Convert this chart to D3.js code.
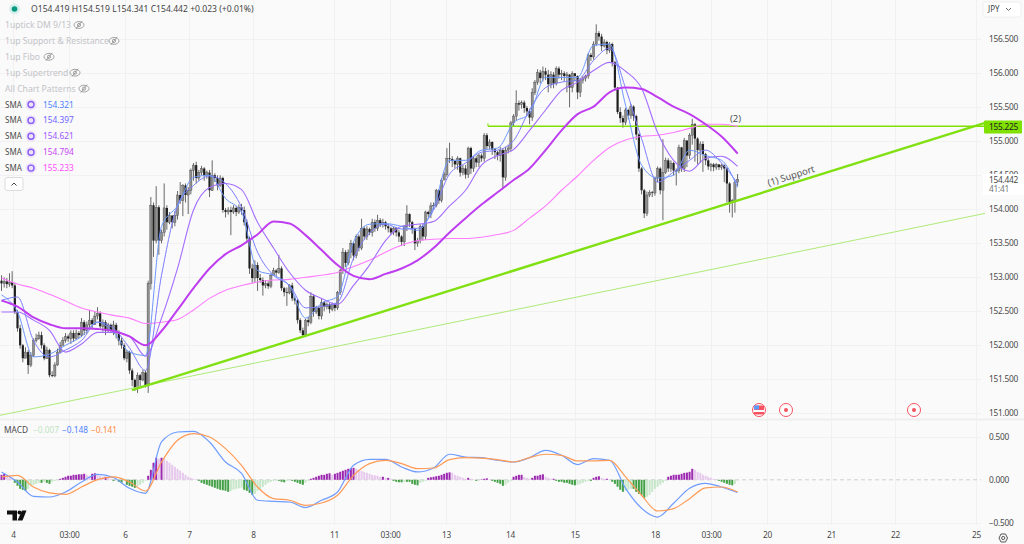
<!DOCTYPE html>
<html>
<head>
<meta charset="utf-8">
<script src="https://cdn.jsdelivr.net/npm/d3@7"></script>
<style>
  html, body { margin: 0; padding: 0; background: #fafafa; overflow: hidden; }
  svg { display: block; font-family: "Noto Sans", "Open Sans", sans-serif; }
  .axis .domain, .axis line { display: none; }
  .axis text, .axisLabel { fill: #4a4a4a; font-size: 8.3px; letter-spacing: -0.25px; font-family: "Noto Sans", sans-serif; }
</style>
</head>
<body>
<div id="chart"></div>
<script>
// hourly closes, first open is 152.95, each next open = previous close
const closes = [
  152.91,152.94,152.90,152.93,152.88,152.49,152.25,152.00,151.81,151.90,
  151.71,151.85,152.07,152.10,152.15,152.00,151.81,151.93,151.56,151.55,
  151.71,151.90,152.00,152.07,152.13,152.10,152.18,152.10,152.18,152.15,
  152.34,152.22,152.30,152.37,152.31,152.43,152.47,152.28,152.34,152.22,
  152.30,152.22,152.30,152.19,152.07,152.00,151.81,151.90,151.63,151.49,
  151.37,151.56,151.49,151.60,151.41,152.91,154.06,153.54,154.03,153.54,
  153.66,154.02,153.81,153.91,153.81,153.91,154.21,154.13,154.35,154.21,
  154.28,154.57,154.65,154.46,154.54,154.60,154.50,154.54,154.28,154.50,
  154.46,154.35,154.46,153.99,153.96,153.99,153.96,154.02,153.96,154.03,
  153.99,153.81,153.57,153.13,152.99,153.18,152.99,152.96,152.88,152.91,
  152.87,153.03,153.10,153.07,153.13,152.84,152.78,152.77,152.88,152.69,
  152.66,152.37,152.22,152.15,152.37,152.34,152.72,152.49,152.55,152.43,
  152.63,152.57,152.60,152.53,152.60,152.55,152.78,153.10,153.37,153.21,
  153.37,153.50,153.32,153.60,153.43,153.72,153.60,153.71,153.66,153.81,
  153.72,153.84,153.78,153.81,153.75,153.72,153.66,153.72,153.66,153.60,
  153.52,153.75,153.93,153.81,153.71,153.50,153.54,153.75,153.60,153.96,
  153.93,154.05,154.06,154.28,154.13,154.43,154.51,154.75,154.74,154.71,
  154.66,154.75,154.54,154.60,154.51,154.90,154.60,154.75,154.69,154.79,
  154.75,155.09,154.93,154.99,154.88,154.84,154.79,154.87,154.47,154.87,
  154.90,155.27,155.37,155.56,155.54,155.57,155.49,155.44,155.35,155.72,
  155.87,156.01,155.93,156.03,155.98,155.84,155.98,155.85,156.07,155.98,
  156.00,155.96,155.98,155.79,156.00,155.96,155.72,155.90,155.93,155.96,
  156.27,156.24,156.43,156.59,156.54,156.40,156.46,156.34,156.43,156.16,
  155.79,155.43,155.34,155.28,155.46,155.38,155.51,155.37,155.10,154.60,
  154.28,153.94,154.21,154.25,154.24,154.46,154.60,154.28,154.54,154.72,
  154.60,154.68,154.57,154.57,154.91,154.60,155.01,154.79,155.09,155.25,
  155.04,154.87,154.96,154.81,154.72,154.63,154.66,154.62,154.66,154.62,
  154.65,154.60,154.38,154.10,154.13,154.40,154.442
];
const highs = [
  153.03,153.00,152.99,153.06,153.09,152.92,152.52,152.30,152.02,151.97,
  151.93,151.90,152.10,152.17,152.20,152.20,152.03,151.98,151.95,151.62,
  151.75,151.95,152.05,152.12,152.18,152.16,152.22,152.22,152.23,152.21,
  152.40,152.37,152.35,152.52,152.40,152.50,152.56,152.50,152.38,152.37,
  152.33,152.32,152.36,152.33,152.22,152.11,152.03,151.93,151.92,151.66,
  151.51,151.60,151.58,151.64,151.63,152.95,154.18,154.10,154.34,154.06,
  153.70,154.38,154.06,153.96,153.88,153.97,154.27,154.40,154.37,154.38,
  154.33,154.60,154.68,154.70,154.58,154.64,154.62,154.57,154.58,154.72,
  154.53,154.50,154.50,154.48,154.02,154.03,154.04,154.06,154.05,154.07,
  154.08,154.04,153.85,153.60,153.20,153.25,153.22,153.05,153.00,152.96,
  152.94,153.06,153.14,153.12,153.33,153.16,152.86,152.85,152.90,152.92,
  152.72,152.68,152.40,152.26,152.39,152.42,152.78,152.75,152.58,152.57,
  152.68,152.65,152.63,152.62,152.63,152.62,152.80,153.13,153.43,153.40,
  153.41,153.55,153.52,153.63,153.63,153.86,153.75,153.75,153.73,153.86,
  153.85,153.92,153.87,153.86,153.83,153.78,153.74,153.74,153.74,153.70,
  153.62,153.77,154.06,153.94,153.83,153.73,153.58,153.78,153.78,153.98,
  153.98,154.10,154.10,154.30,154.30,154.46,154.55,154.90,154.98,154.78,
  154.73,154.78,154.76,154.65,154.65,154.92,154.92,154.78,154.78,154.82,
  154.82,155.12,155.12,155.03,155.00,154.90,154.86,154.92,154.90,154.92,
  154.95,155.30,155.40,155.75,155.60,155.60,155.60,155.52,155.48,155.78,
  155.90,156.06,156.05,156.10,156.08,156.05,156.03,156.02,156.10,156.10,
  156.05,156.03,156.02,155.99,156.03,156.00,155.97,155.93,155.96,155.98,
  156.30,156.30,156.47,156.72,156.62,156.58,156.50,156.48,156.46,156.45,
  156.18,155.80,155.50,155.38,155.49,155.48,155.55,155.53,155.39,155.12,
  154.62,154.30,154.26,154.28,154.27,154.48,154.63,154.62,155.03,154.76,
  154.75,154.72,154.70,154.60,154.95,154.92,155.05,155.02,155.12,155.33,
  155.27,155.06,155.00,155.00,154.83,154.75,154.68,154.68,154.68,154.66,
  154.67,154.66,154.62,154.40,154.15,154.42,154.519
];
const lows = [
  152.80,152.85,152.84,152.86,152.84,152.46,152.20,151.95,151.75,151.82,
  151.58,151.68,151.83,152.04,152.08,151.95,151.78,151.80,151.53,151.53,
  151.53,151.70,151.88,152.00,152.04,152.05,152.02,152.05,152.08,152.10,
  152.12,152.15,152.17,152.25,152.25,152.30,152.38,152.25,152.20,152.15,
  152.18,152.18,152.15,152.10,152.00,151.95,151.78,151.75,151.58,151.40,
  151.33,151.30,151.40,151.47,151.38,151.30,152.82,153.30,153.50,153.33,
  153.50,153.60,153.70,153.78,153.72,153.75,153.85,154.08,153.90,154.10,
  153.93,154.22,154.42,154.38,154.42,154.50,154.42,154.45,154.18,154.27,
  154.40,154.28,154.33,153.95,153.88,153.92,153.62,153.93,153.90,153.93,
  153.92,153.76,153.52,153.05,152.92,152.92,152.80,152.92,152.73,152.84,
  152.83,152.84,153.02,153.02,153.05,152.80,152.72,152.58,152.75,152.65,
  152.60,152.32,152.18,152.12,152.12,152.28,152.31,152.42,152.46,152.38,
  152.38,152.50,152.53,152.47,152.50,152.50,152.52,152.74,153.05,153.15,
  153.18,153.28,153.25,153.28,153.38,153.40,153.55,153.55,153.62,153.60,
  153.67,153.68,153.74,153.73,153.70,153.66,153.62,153.62,153.60,153.52,
  153.46,153.46,153.68,153.74,153.64,153.40,153.45,153.50,153.54,153.55,
  153.88,153.87,154.00,154.03,154.08,154.10,154.45,154.48,154.68,154.62,
  154.60,154.58,154.48,154.50,154.45,154.46,154.52,154.55,154.62,154.62,
  154.70,154.70,154.88,154.88,154.80,154.74,154.72,154.70,154.30,154.42,
  154.82,154.85,155.22,155.30,155.45,155.48,155.42,155.38,155.25,155.30,
  155.68,155.83,155.85,155.88,155.90,155.72,155.78,155.78,155.82,155.92,
  155.90,155.88,155.72,155.50,155.72,155.88,155.62,155.65,155.85,155.88,
  155.92,156.18,156.20,156.40,156.48,156.33,156.38,156.28,156.30,156.10,
  155.75,155.40,155.27,155.20,155.24,155.32,155.33,155.30,155.02,154.55,
  154.22,153.87,153.90,154.18,154.18,154.20,154.40,154.22,153.84,154.52,
  154.55,154.55,154.50,154.35,154.53,154.55,154.55,154.62,154.74,154.95,
  154.70,154.66,154.68,154.55,154.65,154.58,154.56,154.56,154.58,154.58,
  154.58,154.40,154.10,153.95,153.88,153.95,154.341
];

// moving averages read every 6 bars
const lineBars = d3.range(0, 277, 6);
const sma1 = [152.74,152.49,151.83,151.87,152.00,152.13,152.34,152.19,151.90,151.85,153.75,154.05,154.47,154.50,154.16,153.96,153.10,153.03,152.87,152.40,152.62,152.72,153.52,153.78,153.79,153.75,153.69,154.03,154.72,154.72,154.87,154.90,155.27,155.41,155.94,155.94,155.94,156.41,156.43,155.53,154.65,154.46,154.50,154.87,154.79,154.72,154.32];
const sma2 = [152.66,152.71,152.07,151.83,151.93,152.07,152.34,152.25,151.96,151.63,153.03,154.06,154.35,154.49,154.38,154.03,153.37,153.03,152.88,152.55,152.57,152.63,153.28,153.65,153.78,153.71,153.72,153.99,154.52,154.68,154.84,154.87,155.01,155.46,155.79,155.87,155.90,156.19,156.37,155.78,155.04,154.40,154.55,154.72,154.87,154.68,154.38];
const sma3 = [152.49,152.49,152.37,152.22,151.90,152.02,152.19,152.19,152.13,151.84,152.40,153.13,153.99,154.32,154.38,154.29,153.81,153.43,153.07,152.81,152.69,152.60,152.88,153.18,153.54,153.75,153.78,153.82,154.05,154.28,154.65,154.79,154.88,155.16,155.46,155.75,155.87,156.04,156.16,156.03,155.78,155.13,154.72,154.56,154.75,154.78,154.63];
const sma4 = [152.66,152.57,152.41,152.31,152.25,152.25,152.24,152.21,152.13,152.00,152.21,152.52,152.84,153.13,153.34,153.47,153.63,153.82,153.79,153.62,153.40,153.18,153.02,152.97,153.05,153.13,153.25,153.43,153.66,153.87,154.07,154.25,154.43,154.60,154.87,155.16,155.40,155.51,155.72,155.79,155.77,155.65,155.51,155.40,155.25,155.07,154.82];
const sma5 = [152.99,152.90,152.84,152.75,152.65,152.55,152.49,152.44,152.40,152.32,152.34,152.38,152.52,152.69,152.81,152.88,152.93,152.96,152.97,153.00,153.03,153.07,153.16,153.25,153.37,153.47,153.54,153.56,153.57,153.57,153.59,153.63,153.69,153.87,154.05,154.28,154.49,154.72,154.91,155.02,155.07,155.09,155.13,155.19,155.25,155.25,155.22];

const macdLine = [.091,-.026,-.192,-.200,-.142,-.026,.064,.026,-.099,-.157,.440,.556,.564,.440,.207,.076,-.238,-.250,-.258,-.323,-.238,-.142,.169,.238,.238,.149,.091,.137,.297,.265,.258,.227,.207,.258,.343,.285,.177,.247,.227,-.099,-.331,-.433,-.273,-.099,-.041,-.084,-.148];
const signalLine = [.033,.052,-.084,-.153,-.169,-.084,.002,.033,-.026,-.130,.207,.459,.537,.498,.363,.169,-.084,-.219,-.238,-.297,-.270,-.180,.052,.188,.227,.188,.130,.137,.235,.258,.253,.235,.207,.258,.297,.285,.219,.219,.227,.033,-.180,-.363,-.335,-.219,-.095,-.084,-.141];
const histogram = [
  .058,.070,.058,.047,.012,-.035,-.070,-.105,-.116,-.128,
  -.105,-.070,-.058,-.047,-.035,-.035,-.023,-.035,-.047,-.023,
  -.012,0,.012,.023,.035,.047,.047,.058,.058,.064,
  .064,.070,.058,.047,.070,.076,.058,.047,.035,.035,
  .023,.012,-.012,-.006,-.023,-.035,-.012,-.058,-.070,-.081,
  -.093,-.070,-.058,-.035,-.012,.047,.116,.198,.256,.244,
  .256,.244,.221,.198,.174,.151,.128,.105,.081,.058,
  .035,.023,.012,.006,-.012,-.035,-.047,-.058,-.070,-.081,
  -.093,-.105,-.116,-.122,-.128,-.140,-.128,-.116,-.105,-.099,
  -.093,-.116,-.128,-.151,-.174,-.163,-.128,-.105,-.081,-.058,
  -.035,-.023,-.012,-.006,-.012,-.023,-.029,-.012,-.006,-.012,
  -.023,-.035,-.047,-.058,-.035,-.012,.012,.023,.035,.047,
  .058,.058,.070,.076,.058,.070,.081,.093,.105,.116,
  .128,.134,.140,.128,.116,.105,.093,.081,.070,.058,
  .052,.047,.035,.035,.023,.023,.012,-.012,-.023,-.029,
  -.029,-.023,-.023,-.023,-.047,-.058,-.064,-.035,-.023,-.012,
  .023,.029,.035,.041,.047,.058,.070,.081,.087,.081,
  .058,.047,.035,.023,.012,.023,.012,.006,-.012,-.006,
  .006,.012,.017,.006,-.012,-.023,-.035,-.047,-.070,-.058,
  -.035,-.012,.035,.047,.058,.058,.035,.023,.012,.023,
  .047,.047,.058,.064,.035,.023,.012,.012,-.012,-.023,
  -.023,-.035,-.035,-.047,-.058,-.064,-.058,-.047,-.035,-.023,
  -.012,-.012,.023,.035,.041,.023,.012,.012,.006,-.023,
  -.047,-.081,-.116,-.140,-.128,-.116,-.105,-.105,-.140,-.163,
  -.174,-.209,-.198,-.174,-.140,-.105,-.081,-.058,-.035,-.012,
  .035,.047,.058,.058,.060,.070,.081,.084,.093,.128,
  .116,.093,.081,.058,.047,.035,.023,.012,.006,-.012,
  -.023,-.035,-.047,-.058,-.064,-.047,-.007
];

// axes
const priceTicks = [156.5,156,155.5,155,154.5,154,153.5,153,152.5,152,151.5,151];
const macdTicks = [0.5,0,-0.5];
const timeBars = [4.3,25.3,46.3,70.3,94.3,124.7,145.7,166.7,190.7,214.9,245,266,287,311,335,365.4];
const timeLabels = ["4","03:00","6","7","8","11","03:00","13","14","15","18","03:00","20","21","22","25"];

// drawings: [bar, price]
const supportThick = [[48.9,151.34],[368.8,155.27]];
const supportThin = [[-0.6,150.97],[368.8,153.94]];
const resistance = [[182.4,155.22],[368.8,155.22]];

const legendRows = ["1uptick DM 9/13","1up Support & Resistance","1up Fibo","1up Supertrend","All Chart Patterns"];
const smaValues = ["154.321","154.397","154.621","154.794","155.233"];
const smaColors = ["#4d82ff","#6f63ff","#9a58ff","#c648f5","#ff4dff"];

const width = 1024, height = 544, axisX = 981;

const x = d3.scaleLinear().domain([0, 100]).range([1.5, 268.2]);
const y = d3.scaleLinear().domain([156.5, 151]).range([39.3, 413.3]);
const ym = d3.scaleLinear().domain([0.5, -0.5]).range([436.8, 522.8]);

const svg = d3.select("#chart").append("svg").attr("width", width).attr("height", height);
svg.append("rect").attr("width", width).attr("height", height).attr("fill", "#fafafa");

// --- grid ---
const grid = svg.append("g").attr("stroke", "#f1f1f1").attr("stroke-width", 1);
priceTicks.forEach(p => grid.append("line").attr("x1", 0).attr("x2", axisX).attr("y1", Math.round(y(p)) + .5).attr("y2", Math.round(y(p)) + .5));
macdTicks.filter(v => v !== 0).forEach(v => grid.append("line").attr("x1", 0).attr("x2", axisX).attr("y1", Math.round(ym(v)) + .5).attr("y2", Math.round(ym(v)) + .5));
timeBars.forEach(b => grid.append("line").attr("x1", Math.round(x(b)) + .5).attr("x2", Math.round(x(b)) + .5).attr("y1", 0).attr("y2", 525));
svg.append("line").attr("x1", 0).attr("x2", width).attr("y1", 419.5).attr("y2", 419.5).attr("stroke", "#eeeeee").attr("stroke-width", 2);

// --- macd pane ---
svg.append("line").attr("x1", 0).attr("x2", axisX).attr("y1", ym(0)).attr("y2", ym(0))
  .attr("stroke", "#cfcfcf").attr("stroke-dasharray", "4,3");

const histColor = (v, i) => {
  const prev = i > 0 ? histogram[i - 1] : v;
  if (v >= 0) return v >= prev ? "#9c27b0" : "#e6c8ec";
  return v <= prev ? "#43a047" : "#c8e6c9";
};
svg.append("g").selectAll("rect").data(histogram).join("rect")
  .attr("x", (d, i) => x(i) - 1)
  .attr("width", 2)
  .attr("y", d => Math.min(ym(d), ym(0)))
  .attr("height", d => Math.abs(ym(d) - ym(0)))
  .attr("fill", histColor);

const macdPath = d3.line().x((d, i) => x(lineBars[i])).y(d => ym(d)).curve(d3.curveMonotoneX);
svg.append("path").attr("d", macdPath(macdLine)).attr("fill", "none").attr("stroke", "#6f9cff").attr("stroke-width", 1.2);
svg.append("path").attr("d", macdPath(signalLine)).attr("fill", "none").attr("stroke", "#ff9a55").attr("stroke-width", 1.2);

// --- candles ---
const candles = closes.map((c, i) => ({ i, o: i > 0 ? closes[i - 1] : 152.95, c, h: highs[i], l: lows[i] }));
const candleG = svg.append("g");
candleG.selectAll("line").data(candles).join("line")
  .attr("x1", d => x(d.i)).attr("x2", d => x(d.i))
  .attr("y1", d => y(d.h)).attr("y2", d => y(d.l))
  .attr("stroke", "#444").attr("stroke-width", 0.8);
candleG.selectAll("rect").data(candles).join("rect")
  .attr("x", d => x(d.i) - 1.1)
  .attr("width", 2.2)
  .attr("y", d => y(Math.max(d.o, d.c)))
  .attr("height", d => Math.max(0.8, Math.abs(y(d.o) - y(d.c))))
  .attr("fill", d => d.c >= d.o ? "#8f8f8f" : "#1f1f1f")
  .attr("stroke", d => d.c >= d.o ? "#4a4a4a" : "none")
  .attr("stroke-width", 0.4);

// --- trend lines ---
const seg = d3.line().x(d => x(d[0])).y(d => y(d[1]));
svg.append("path").attr("d", seg(supportThin)).attr("fill", "none").attr("stroke", "#aeea7a").attr("stroke-width", 1);
svg.append("path").attr("d", seg(supportThick)).attr("fill", "none").attr("stroke", "#80e012").attr("stroke-width", 2.4);
svg.append("path").attr("d", seg(resistance)).attr("fill", "none").attr("stroke", "#80e000").attr("stroke-width", 1.5);
svg.append("line").attr("x1", x(182.4)).attr("x2", x(182.4)).attr("y1", y(155.22) - 3).attr("y2", y(155.22)).attr("stroke", "#80e000");

// --- moving averages ---
const smaPath = d3.line().x((d, i) => x(lineBars[i])).y(d => y(d)).curve(d3.curveMonotoneX);
[[sma5, "#ff7cff", 1.1], [sma3, "#a46dff", 1.1], [sma2, "#7b7cff", 1], [sma1, "#6c96ff", 1], [sma4, "#bf3df0", 2]].forEach(s => {
  svg.append("path").attr("d", smaPath(s[0])).attr("fill", "none").attr("stroke", s[1]).attr("stroke-width", s[2]);
});

// --- chart notes ---
svg.append("text").attr("x", 730).attr("y", 121.5).attr("font-size", 9.5).attr("fill", "#555").text("(2)");
svg.append("text").attr("transform", `translate(792,179) rotate(-17.4)`).attr("text-anchor", "middle")
  .attr("font-size", 9.4).attr("fill", "#555").text("(1) Support");

// --- axes ---
svg.append("g").attr("class", "axis").attr("transform", `translate(${axisX},0)`)
  .call(d3.axisRight(y).tickValues(priceTicks).tickSize(0).tickPadding(8).tickFormat(d3.format(".3f")));
svg.append("g").attr("class", "axis").attr("transform", `translate(${axisX},0)`)
  .call(d3.axisRight(ym).tickValues(macdTicks).tickSize(0).tickPadding(8).tickFormat(d => d3.format(".3f")(d).replace("-", "\u2212")));
svg.append("g").attr("class", "axis").attr("transform", "translate(0,529)")
  .call(d3.axisBottom(x).tickValues(timeBars).tickSize(0).tickPadding(3).tickFormat((d, i) => timeLabels[i]));

// last price and line labels
svg.append("rect").attr("x", 983).attr("y", 174).attr("width", 41).attr("height", 21).attr("fill", "#fff");
svg.append("text").attr("class", "axisLabel").attr("x", 989).attr("y", 182.5).text("154.442");
svg.append("text").attr("class", "axisLabel").attr("x", 989).attr("y", 192).style("fill", "#777").text("41:41");
svg.append("rect").attr("x", 984).attr("y", 120.5).attr("width", 38).attr("height", 13).attr("fill", "#80e000").attr("rx", 1);
svg.append("text").attr("class", "axisLabel").attr("x", 989).attr("y", 130).style("fill", "#222").text("155.225");

// currency button
svg.append("rect").attr("x", 983).attr("y", 2).attr("width", 38).attr("height", 15).attr("fill", "#fff").attr("stroke", "#eee").attr("rx", 2);
svg.append("text").attr("x", 988).attr("y", 12).attr("font-size", 8).attr("fill", "#444").text("JPY");
svg.append("path").attr("d", "M1006,8 l2.5,2.5 l2.5,-2.5").attr("fill", "none").attr("stroke", "#666");

// --- legend ---
const eye = (cx, cy) => {
  const g = svg.append("g").attr("fill", "none").attr("stroke", "#8d8d8d").attr("stroke-width", 0.8);
  g.append("ellipse").attr("cx", cx).attr("cy", cy).attr("rx", 5).attr("ry", 3.4);
  g.append("circle").attr("cx", cx).attr("cy", cy).attr("r", 1.6);
  g.append("line").attr("x1", cx - 3.2).attr("x2", cx + 3.2).attr("y1", cy + 4).attr("y2", cy - 4);
};

svg.append("circle").attr("cx", 14.5).attr("cy", 9).attr("r", 5.5).attr("fill", "#d9efec");
svg.append("circle").attr("cx", 14.5).attr("cy", 9).attr("r", 2.8).attr("fill", "#089981");
svg.append("text").attr("x", 31).attr("y", 12).attr("font-size", 8.6).attr("fill", "#444")
  .text("O154.419 H154.519 L154.341 C154.442 +0.023 (+0.01%)");

const eyeX = [79, 114, 49, 75, 84];
legendRows.forEach((t, i) => {
  const ly = 25 + i * 15.9;
  svg.append("text").attr("x", 5).attr("y", ly + 3).attr("font-size", 8.6).attr("fill", "#c3c3c8").text(t);
  eye(eyeX[i], ly);
});
smaValues.forEach((v, i) => {
  const ly = 104.5 + i * 15.9;
  svg.append("text").attr("x", 5).attr("y", ly + 3).attr("font-size", 8).attr("fill", "#4a4a4a").text("SMA");
  svg.append("circle").attr("cx", 31).attr("cy", ly).attr("r", 5.5).attr("fill", "#ece4fb");
  svg.append("circle").attr("cx", 31).attr("cy", ly).attr("r", 3).attr("fill", "none").attr("stroke", "#8a5cf6").attr("stroke-width", 1.4);
  svg.append("text").attr("x", 43).attr("y", ly + 3).attr("font-size", 8.3).attr("fill", smaColors[i]).text(v);
});
svg.append("rect").attr("x", 5).attr("y", 177.5).attr("width", 18).attr("height", 13).attr("rx", 2).attr("fill", "#fff").attr("stroke", "#dcdcdc");
svg.append("path").attr("d", "M11.5,185.5 l2.5,-2.5 l2.5,2.5").attr("fill", "none").attr("stroke", "#444");

// macd legend
svg.append("text").attr("x", 4).attr("y", 433).attr("font-size", 8.3).attr("fill", "#4a4a4a").text("MACD");
[["\u22120.007", 33, "#bfe5c2"], ["\u22120.148", 62, "#4d82ff"], ["\u22120.141", 91, "#ff8a3d"]].forEach(t => {
  svg.append("text").attr("x", t[1]).attr("y", 433).attr("font-size", 8.3).attr("fill", t[2]).text(t[0]);
});

// tv logo
svg.append("path").attr("d", "M7,510.5 h10 v10 h-4.5 v-6 h-5.5 z M22,510.5 h4.5 l-4,10 h-5 z").attr("fill", "#111");
svg.append("circle").attr("cx", 19.5).attr("cy", 512.5).attr("r", 2).attr("fill", "#111");

// event markers
const eventMarks = [786, 914];
eventMarks.forEach(cx => {
  svg.append("circle").attr("cx", cx).attr("cy", 410).attr("r", 6.5).attr("fill", "#fff").attr("stroke", "#f7525f").attr("stroke-width", 1);
  svg.append("circle").attr("cx", cx).attr("cy", 410).attr("r", 2).attr("fill", "#f7525f");
});
svg.append("circle").attr("cx", 759).attr("cy", 410).attr("r", 6.5).attr("fill", "#fff").attr("stroke", "#f7525f").attr("stroke-width", 1);
svg.append("rect").attr("x", 754).attr("y", 405.5).attr("width", 10).attr("height", 9).attr("fill", "#f7525f");
svg.append("rect").attr("x", 754).attr("y", 410).attr("width", 10).attr("height", 2).attr("fill", "#fff");
svg.append("rect").attr("x", 754).attr("y", 405.5).attr("width", 5).attr("height", 4).attr("fill", "#5b9cf6");

// settings
svg.append("path").attr("d", "M999,538 l2,-4 h4.5 l2,4 l-2,4 h-4.5 z").attr("fill", "none").attr("stroke", "#555").attr("stroke-width", 1);
svg.append("circle").attr("cx", 1003.2).attr("cy", 538).attr("r", 1.6).attr("fill", "none").attr("stroke", "#555");
</script>
</body>
</html>
